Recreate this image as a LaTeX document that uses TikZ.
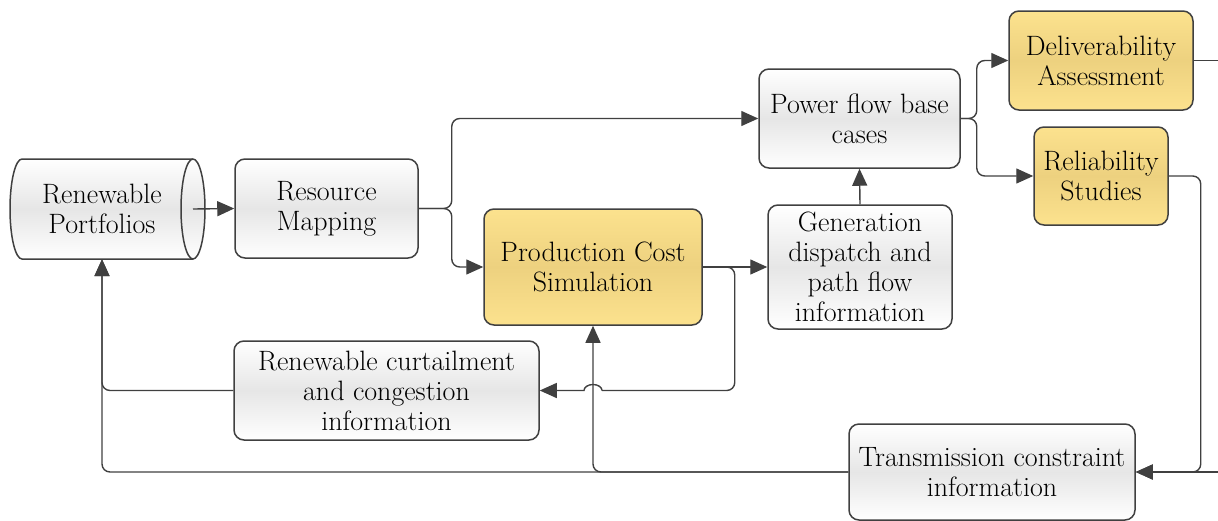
\documentclass[tikz,border=0pt]{standalone}
\usepackage{xcolor}
\usetikzlibrary{arrows.meta,calc}
\definecolor{lineGray}{RGB}{64,64,64}
\definecolor{boxGray}{RGB}{230,230,230}
\definecolor{goldTop}{RGB}{252,226,142}
\definecolor{goldMid}{RGB}{237,209,127}

\tikzset{
	txt/.style={align=center, font=\fontsize{28}{30}\selectfont, inner sep=0pt},
	block/.style={txt, draw=lineGray, line width=1.5pt, rounded corners=10pt,
		top color=white, bottom color=white, middle color=boxGray},
	goldblock/.style={block, top color=goldTop, bottom color=goldTop, middle color=goldMid},
	flow/.style={draw=lineGray, line width=1.4pt, rounded corners=8pt,
		-{Triangle[length=17pt,width=15pt]}},
}

\begin{document}
\begin{tikzpicture}[x=1pt, y=-1pt]
	\useasboundingbox (0,0) rectangle (1218,520);

	% Portfolio store (cylinder on its side)
	\shadedraw[draw=lineGray, line width=1.5pt, top color=white, bottom color=white, middle color=boxGray]
		(22,159) -- (193,159) arc[start angle=-90, end angle=90, x radius=12, y radius=50]
		-- (22,259) arc[start angle=90, end angle=270, x radius=12, y radius=50] -- cycle;
	\draw[lineGray, line width=1.5pt] (193,159) arc[start angle=-90, end angle=-270, x radius=12, y radius=50];
	\node[txt, minimum height=100pt] (port) at (102,209) {Renewable\\Portfolios};
	\coordinate (portface) at (193,209);

	% Blocks
	\node[block, minimum width=183pt, minimum height=99pt] (resmap) at (326.5,208.5) {Resource\\Mapping};
	\node[goldblock, minimum width=218pt, minimum height=116pt] (pcs) at (593,267) {Production Cost\\Simulation};
	\node[block, minimum width=201pt, minimum height=99pt] (pfb) at (859.5,118.5) {Power flow base\\cases};
	\node[block, minimum width=184pt, minimum height=124pt] (gen) at (860,267) {Generation\\dispatch and\\path flow\\information};
	\node[goldblock, minimum width=184pt, minimum height=99pt] (deliv) at (1101,60.5) {Deliverability\\Assessment};
	\node[goldblock, minimum width=134pt, minimum height=98pt] (relia) at (1101,176) {Reliability\\Studies};
	\node[block, minimum width=305pt, minimum height=99pt] (curt) at (386.5,390.5) {Renewable curtailment\\and congestion\\information};
	\node[block, minimum width=286pt, minimum height=96pt] (trans) at (992,472) {Transmission constraint\\information};

	% Lines leaving the picture on the right
	\coordinate (edgeA) at (1218,60.5);
	\coordinate (edgeB) at (1218,472);

	% Forward flow
	\draw[flow] (portface) -- (resmap.west);
	\draw[flow] (resmap.east) -- ++(33,0) |- (pfb.west);
	\draw[flow] (resmap.east) -- ++(33,0) |- (pcs.west);
	\draw[flow] (pcs.east) -- (gen.west);
	\draw[flow] (gen.north) -- (pfb.south);
	\draw[flow] (pfb.east) -- ++(16,0) |- (deliv.west);
	\draw[flow] (pfb.east) -- ++(16,0) |- (relia.west);
	\draw[draw=lineGray, line width=1.4pt] (deliv.east) -- (edgeA);

	% Feedback loops (hop over the line into the simulation block)
	\coordinate (hopR) at ($(pcs.south |- curt.east)+(9,0)$);
	\draw[draw=lineGray, line width=1.4pt, rounded corners=8pt] (pcs.east) -- ++(32,0) |- (hopR);
	\draw[flow, sharp corners] (hopR) arc[start angle=0, end angle=-180, x radius=9, y radius=6] -- (curt.east);
	\draw[flow] (relia.east) -- ++(32,0) |- (trans.east);
	\draw[flow] (edgeB) -- (trans.east);
	\draw[flow] (trans.west) -| (pcs.south);
	\draw[flow] (trans.west) -| (port.south);
	\draw[flow] (curt.west) -| (port.south);
\end{tikzpicture}
\end{document}
